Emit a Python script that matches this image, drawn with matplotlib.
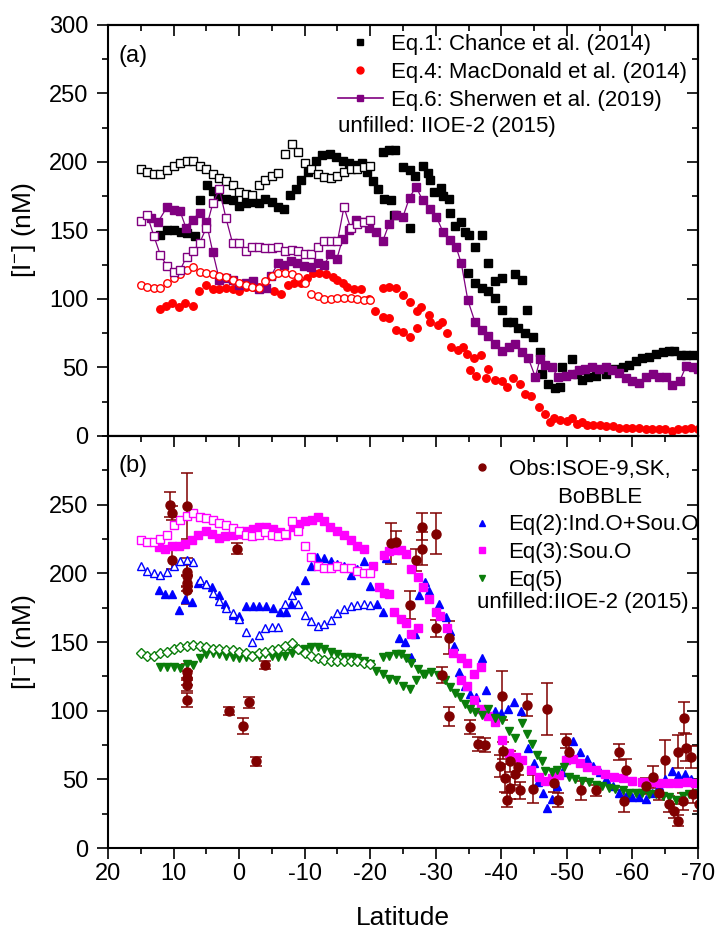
import matplotlib
matplotlib.use("Agg")
import matplotlib.pyplot as plt
from matplotlib.lines import Line2D
from matplotlib.ticker import MultipleLocator

plt.rcParams['font.family'] = ['Liberation Sans', 'DejaVu Sans']
plt.rcParams['mathtext.fontset'] = 'custom'
plt.rcParams['mathtext.rm'] = 'Liberation Sans'
plt.rcParams['mathtext.it'] = 'Liberation Sans:italic'
plt.rcParams['axes.unicode_minus'] = False

# ---------------- panel (a): parameterised iodide ----------------
iioe_lat = [15, 14, 13, 12, 11, 10, 9, 8, 7, 6, 5, 4, 3, 2, 1, 0, -1, -2,
            -3, -4, -5, -6, -7, -8, -9, -10, -11, -12, -13, -14, -15, -16,
            -17, -18, -19, -20]

chance_iioe = [195, 193, 191, 191, 194, 197, 199, 201, 201, 197, 195, 191,
               188, 186, 183, 178, 177, 176, 183, 187, 190, 192, 206, 213,
               207, 199, 195, 191, 189, 188, 190, 193, 195, 195, 196, 197]
macdonald_iioe = [110, 109, 108, 108, 112, 115, 118, 121, 123, 120, 119, 118,
                  117, 116, 114, 112, 110, 109, 108, 113, 117, 119, 119, 118,
                  116, 112, 104, 102, 100, 100, 101, 101, 101, 100, 99, 99]
sherwen_iioe = [157, 161, 146, 132, 124, 120, 121, 131, 135, 141, 152, 170,
                180, 159, 141, 141, 135, 138, 138, 137, 137, 138, 135, 136,
                135, 133, 133, 138, 142, 142, 142, 167, 152, 155, 156, 158]

chance_pts = [(12.0, 147), (11.0, 150), (10.0, 150), (8.9, 149), (7.9, 148), (6.8, 146),
              (6.0, 172), (4.9, 183), (4.0, 179), (3.2, 175), (2.0, 173), (1.0, 172),
              (0.0, 168), (-1.0, 170), (-2.0, 171), (-3.0, 170), (-4.0, 173), (-5.0, 171),
              (-6.0, 167), (-6.9, 166), (-7.8, 176), (-8.7, 180), (-9.5, 187), (-10.5, 193),
              (-11.7, 201), (-12.7, 205), (-13.8, 206), (-14.8, 204), (-15.8, 201),
              (-16.8, 199), (-17.9, 198), (-18.8, 199), (-19.5, 193), (-20.4, 186),
              (-21.2, 180), (-22.1, 173), (-23.1, 172), (-21.9, 207), (-22.8, 209),
              (-23.8, 209), (-25.0, 196), (-26.0, 194), (-26.8, 190), (-28.0, 197),
              (-28.8, 192), (-29.2, 187), (-23.7, 161), (-26.0, 152), (-29.8, 178),
              (-30.8, 181), (-31.1, 175), (-32.0, 173), (-32.1, 163), (-32.9, 153),
              (-33.9, 156), (-34.4, 149), (-35.0, 147), (-36.0, 138), (-37.0, 147),
              (-38.0, 126), (-34.9, 119), (-36.0, 112), (-37.0, 108), (-38.0, 106),
              (-39.0, 101), (-39.0, 113), (-40.1, 115), (-42.1, 118), (-43.1, 114),
              (-40.1, 92), (-40.8, 83), (-41.8, 83), (-42.6, 79), (-43.6, 75), (-44.9, 72),
              (-43.9, 92), (-45.9, 61), (-46.2, 45), (-47.2, 38), (-48.2, 35), (-49.0, 36),
              (-49.3, 50), (-50.8, 56), (-51.5, 45), (-52.3, 41), (-53.3, 43), (-54.4, 44),
              (-55.9, 45), (-57.4, 49), (-58.5, 50), (-59.5, 52), (-60.5, 55), (-61.5, 57),
              (-62.6, 58), (-63.6, 60), (-64.6, 61), (-65.6, 62), (-66.4, 62), (-67.4, 59),
              (-68.2, 59), (-69.2, 59)]

macdonald_pts = [(12.1, 93), (11.2, 95), (10.2, 97), (9.2, 94), (8.2, 97), (7.1, 95),
                 (6.1, 106), (5.0, 110), (4.0, 107), (3.0, 107), (2.0, 108), (1.0, 107),
                 (0.0, 106), (-1.1, 109), (-2.1, 109), (-3.1, 109), (-4.1, 108), (-5.4, 106),
                 (-6.4, 104), (-7.4, 110), (-8.4, 112), (-9.4, 112), (-10.3, 115),
                 (-11.2, 119), (-12.2, 119), (-13.2, 118), (-14.3, 116), (-15.0, 114),
                 (-15.8, 112), (-16.5, 109), (-17.6, 107), (-18.6, 107), (-19.8, 100),
                 (-20.8, 91), (-21.9, 87), (-22.9, 86), (-21.9, 108), (-22.9, 109),
                 (-24.0, 108), (-24.0, 77), (-25.0, 103), (-25.0, 76), (-26.1, 72),
                 (-26.1, 98), (-27.1, 91), (-27.1, 79), (-27.8, 94), (-28.9, 88), (-29.2, 83),
                 (-30.3, 81), (-31.0, 83), (-31.7, 75), (-32.4, 65), (-33.4, 63), (-34.1, 65),
                 (-34.8, 60), (-35.9, 57), (-36.9, 59), (-35.2, 48), (-36.2, 44), (-37.6, 42),
                 (-38.0, 49), (-39.0, 41), (-40.1, 40), (-40.8, 36), (-41.8, 42), (-42.9, 38),
                 (-43.6, 31), (-44.6, 29), (-45.7, 21), (-46.7, 16), (-47.4, 10), (-48.1, 13),
                 (-49.0, 12), (-50.0, 11), (-50.8, 13), (-51.5, 9), (-52.3, 10), (-53.0, 8),
                 (-54.0, 8), (-55.0, 8), (-56.0, 7), (-57.0, 7), (-58.0, 6), (-59.0, 6),
                 (-60.0, 6), (-61.0, 6), (-62.0, 5), (-63.0, 5), (-64.0, 5), (-65.0, 5),
                 (-66.0, 4), (-67.0, 5), (-68.0, 5), (-69.0, 6), (-70.0, 5)]

sherwen_pts = [(13.4, 159), (12.4, 156), (11.0, 167), (10.0, 165), (9.0, 164), (8.1, 152),
               (7.1, 158), (6.0, 163), (5.0, 156), (4.0, 134), (3.0, 114), (2.0, 115),
               (1.0, 114), (0.0, 110), (-1.1, 112), (-2.1, 113), (-3.1, 107), (-4.1, 108),
               (-4.9, 117), (-5.9, 126), (-6.9, 125), (-7.9, 128), (-8.9, 126), (-9.9, 124),
               (-11.0, 123), (-12.0, 126), (-13.0, 125), (-13.9, 133), (-14.9, 129),
               (-15.8, 144), (-16.8, 150), (-17.8, 158), (-18.8, 156), (-19.8, 152),
               (-20.9, 149), (-21.9, 142), (-22.9, 155), (-23.9, 161), (-25.0, 160),
               (-26.0, 174), (-27.0, 182), (-28.0, 172), (-29.1, 166), (-30.1, 160),
               (-31.1, 149), (-32.1, 143), (-33.1, 138), (-33.9, 126), (-34.9, 99),
               (-36.0, 83), (-37.0, 77), (-38.0, 73), (-39.0, 67), (-40.1, 62), (-41.1, 65),
               (-42.1, 67), (-43.1, 61), (-44.1, 57), (-45.2, 43), (-45.9, 56), (-46.7, 52),
               (-47.7, 50), (-48.7, 43), (-49.8, 44), (-50.8, 45), (-51.8, 48), (-52.8, 49),
               (-53.9, 50), (-54.9, 49), (-55.9, 50), (-56.9, 48), (-58.0, 46), (-59.0, 42),
               (-60.0, 40), (-61.0, 39), (-62.0, 43), (-63.1, 45), (-64.1, 43), (-65.1, 43),
               (-66.1, 37), (-67.2, 40), (-68.2, 51), (-69.2, 50), (-70.0, 49)]

# ---------------- panel (b): observations and new fits ----------------
blue_iioe = [205, 202, 200, 199, 201, 205, 209, 210, 208, 195, 192, 186, 180, 175,
             171, 167, 157, 150, 155, 160, 161, 161, 178, 184, 178, 170, 165, 162,
             163, 166, 171, 174, 176, 177, 178, 177]
magenta_iioe = [224, 223, 223, 225, 228, 235, 239, 242, 244, 241, 240, 239, 237, 235,
                233, 231, 228, 227, 228, 230, 228, 227, 229, 238, 231, 220, 212, 205,
                204, 204, 205, 204, 204, 202, 200, 200]
green_iioe = [142, 140, 140, 142, 143, 145, 146, 147, 148, 147, 146, 145, 145, 144,
              144, 143, 142, 140, 142, 143, 144, 145, 147, 149, 145, 142, 140, 138,
              137, 136, 136, 136, 136, 136, 135, 134]

obs_pts = [(10.5, 250, 9), (10.2, 244, 5), (10.3, 210, 7), (8.0, 249, 24), (8.0, 201, 10),
           (8.0, 198, 8), (8.0, 193, 6), (8.0, 188, 10), (8.0, 128, 6), (8.0, 124, 5),
           (8.0, 119, 5), (8.0, 108, 5), (0.3, 218, 4), (1.5, 100, 3), (-0.6, 89, 6),
           (-1.5, 106, 4), (-2.6, 63, 3), (-4.0, 133, 3), (-23.1, 222, 15), (-23.9, 223, 8),
           (-26.0, 177, 10), (-27.0, 210, 8), (-27.9, 218, 12), (-27.9, 234, 10),
           (-30.1, 229, 15), (-30.0, 160, 6), (-31.0, 126, 6), (-32.0, 153, 12),
           (-32.0, 96, 7), (-35.2, 88, 5), (-36.5, 76, 5), (-37.5, 75, 5), (-40.1, 111, 18),
           (-39.8, 60, 8), (-40.3, 71, 6), (-40.6, 51, 10), (-40.8, 35, 5), (-41.3, 44, 8),
           (-41.3, 63, 8), (-42.1, 54, 8), (-42.6, 59, 6), (-42.9, 42, 6), (-43.9, 104, 8),
           (-44.9, 43, 10), (-47.0, 101, 19), (-48.0, 47, 6), (-48.7, 35, 5), (-49.8, 78, 5),
           (-50.3, 70, 5), (-52.1, 42, 7), (-54.4, 42, 4), (-58.0, 70, 6), (-59.0, 57, 8),
           (-58.7, 34, 8), (-62.0, 45, 6), (-63.1, 52, 8), (-64.0, 40, 5), (-64.9, 64, 15),
           (-65.6, 32, 6), (-66.4, 27, 5), (-66.9, 20, 4), (-66.9, 70, 12), (-67.7, 34, 6),
           (-67.9, 95, 11), (-68.2, 73, 10), (-69.0, 66, 8), (-69.2, 39, 6), (-70.2, 32, 5)]

eq2_pts = [(12.2, 188), (11.3, 185), (10.3, 185), (9.2, 173), (8.2, 181), (7.2, 179),
           (6.2, 193), (5.1, 192), (4.1, 190), (3.1, 184), (2.1, 178), (1.0, 170), (0.0, 169),
           (-1.0, 176), (-2.1, 176), (-3.1, 176), (-4.1, 176), (-5.1, 175), (-6.2, 172),
           (-7.2, 172), (-7.9, 178), (-8.9, 188), (-10.0, 195), (-10.9, 205), (-11.9, 212),
           (-13.0, 211), (-14.0, 209), (-15.0, 207), (-16.0, 205), (-17.0, 199), (-18.0, 203),
           (-19.0, 209), (-20.0, 191), (-21.0, 178), (-22.0, 172), (-22.4, 211), (-23.3, 218),
           (-24.0, 221), (-24.4, 153), (-25.3, 150), (-26.2, 139), (-26.9, 156), (-27.5, 184),
           (-28.3, 194), (-29.0, 187), (-30.5, 178), (-31.5, 168), (-32.2, 158), (-32.8, 147),
           (-33.6, 128), (-34.4, 118), (-35.3, 112), (-36.1, 110), (-37.0, 138), (-37.7, 115),
           (-39.0, 100), (-40.0, 98), (-41.0, 101), (-42.0, 106), (-43.0, 100), (-44.0, 73),
           (-45.0, 62), (-45.6, 48), (-46.3, 40), (-47.0, 29), (-47.7, 36), (-48.5, 45),
           (-49.3, 55), (-50.0, 68), (-51.0, 78), (-52.0, 70), (-53.0, 65), (-54.0, 60),
           (-55.0, 55), (-56.0, 50), (-57.0, 45), (-58.0, 40), (-59.0, 38), (-60.0, 37),
           (-61.0, 37), (-62.0, 36), (-63.0, 40), (-64.0, 45), (-65.0, 50), (-66.0, 56),
           (-67.0, 53), (-68.0, 54), (-69.0, 50), (-70.0, 48)]

eq3_pts = [(12.2, 219), (11.3, 218), (10.3, 220), (9.2, 220), (8.2, 221), (7.2, 224),
           (6.2, 228), (5.1, 231), (4.1, 229), (3.1, 226), (2.1, 227), (1.0, 228), (0.0, 229),
           (-1.0, 231), (-2.1, 232), (-3.1, 234), (-4.1, 234), (-5.1, 232), (-6.2, 230),
           (-7.2, 228), (-8.2, 234), (-9.1, 236), (-10.1, 238), (-11.1, 239), (-12.1, 241),
           (-12.9, 238), (-13.9, 234), (-15.0, 231), (-16.0, 228), (-17.0, 224), (-18.0, 220),
           (-19.1, 218), (-20.4, 205), (-21.4, 190), (-22.1, 186), (-22.9, 185), (-23.7, 172),
           (-24.7, 167), (-25.5, 164), (-26.2, 156), (-27.3, 160), (-22.1, 213), (-22.9, 216),
           (-23.9, 217), (-24.7, 217), (-25.5, 214), (-26.2, 203), (-27.3, 197), (-28.0, 190),
           (-29.0, 181), (-30.0, 172), (-30.6, 169), (-31.7, 160), (-32.7, 142), (-33.8, 138),
           (-34.8, 135), (-35.9, 127), (-36.9, 132), (-33.8, 122), (-34.8, 118), (-35.9, 108),
           (-36.9, 101), (-38.0, 96), (-39.0, 92), (-40.1, 79), (-41.1, 69), (-42.2, 66),
           (-43.2, 64), (-44.6, 57), (-45.7, 52), (-46.7, 49), (-47.8, 51), (-48.8, 53),
           (-49.9, 64), (-50.9, 65), (-52.0, 62), (-53.0, 59), (-54.4, 57), (-55.8, 54),
           (-57.2, 52), (-58.6, 51), (-60.0, 49), (-61.4, 48), (-62.8, 48), (-64.2, 47),
           (-65.6, 47), (-67.0, 47), (-68.4, 48), (-69.5, 47)]

eq5_pts = [(12.0, 132), (11.0, 132), (10.0, 132), (9.0, 131), (8.0, 134), (7.0, 133),
           (6.0, 138), (5.0, 141), (4.0, 142), (3.0, 141), (2.0, 140), (1.0, 139), (0.0, 138),
           (-1.0, 139), (-2.0, 140), (-3.0, 140), (-4.0, 141), (-5.0, 140), (-6.0, 139),
           (-7.0, 140), (-8.0, 142), (-9.0, 144), (-10.0, 145), (-11.0, 146), (-12.0, 146),
           (-13.0, 145), (-14.0, 143), (-15.0, 141), (-16.0, 139), (-17.0, 139), (-18.0, 138),
           (-19.0, 136), (-20.0, 134), (-20.9, 129), (-21.9, 127), (-22.9, 123), (-23.9, 122),
           (-25.0, 118), (-26.0, 116), (-27.0, 122), (-28.0, 127), (-21.9, 139), (-22.9, 140),
           (-23.9, 141), (-24.7, 141), (-25.5, 138), (-26.2, 135), (-27.3, 130), (-28.3, 127),
           (-29.3, 128), (-30.3, 126), (-31.4, 122), (-32.1, 117), (-32.9, 113), (-33.7, 110),
           (-34.4, 105), (-35.2, 101), (-36.0, 99), (-37.0, 97), (-38.0, 101), (-39.0, 95),
           (-40.1, 93), (-41.1, 85), (-42.1, 80), (-43.1, 91), (-43.9, 83), (-44.7, 76),
           (-45.4, 68), (-46.2, 63), (-46.7, 56), (-47.7, 55), (-48.5, 57), (-49.5, 59),
           (-50.3, 52), (-51.3, 50), (-52.3, 49), (-53.4, 48), (-54.4, 46), (-55.4, 45),
           (-56.4, 44), (-57.4, 43), (-58.5, 42), (-59.5, 40), (-60.5, 40), (-61.5, 40),
           (-62.6, 39), (-63.6, 39), (-64.6, 38), (-65.6, 37), (-66.6, 35), (-67.7, 38),
           (-68.7, 39), (-70.0, 40)]

BLACK, RED, PURPLE = 'black', '#ff0000', '#800080'
MAROON, BLUE, MAGENTA, GREEN = '#800000', '#0000ff', '#ff00ff', '#0a7d0a'


def unzip(pts):
    return [p[0] for p in pts], [p[1] for p in pts]


def style_axes(ax, yticks, show_xlabels):
    ax.set_xlim(20, -70)
    ax.set_ylim(0, 300)
    ax.set_xticks([20, 10, 0, -10, -20, -30, -40, -50, -60, -70])
    ax.set_yticks(yticks)
    ax.xaxis.set_minor_locator(MultipleLocator(5))
    ax.yaxis.set_minor_locator(MultipleLocator(25))
    for sp in ax.spines.values():
        sp.set_linewidth(1.5)
    ax.tick_params(which='major', direction='out', length=8, width=1.2,
                   labelsize=17)
    ax.tick_params(axis='y', which='major', pad=6)
    ax.tick_params(axis='x', which='major', pad=3)
    ax.tick_params(which='minor', direction='out', length=4, width=1.2)
    if not show_xlabels:
        ax.tick_params(labelbottom=False)
    # inward ticks on the top and right edges
    top = ax.secondary_xaxis('top')
    top.set_xticks(ax.get_xticks())
    top.xaxis.set_minor_locator(MultipleLocator(5))
    top.tick_params(which='major', direction='in', length=8, width=1.2, labeltop=False)
    top.tick_params(which='minor', direction='in', length=4, width=1.2)
    top.spines['top'].set_linewidth(1.5)
    right = ax.secondary_yaxis('right')
    right.set_yticks(yticks)
    right.yaxis.set_minor_locator(MultipleLocator(25))
    right.tick_params(which='major', direction='in', length=8, width=1.2, labelright=False)
    right.tick_params(which='minor', direction='in', length=4, width=1.2)
    right.spines['right'].set_linewidth(1.5)
    ax.set_ylabel('[I$^{-}$] (nM)', fontsize=19)
    ax.yaxis.set_label_coords(-0.118, 0.5)


fig = plt.figure(figsize=(7.16, 9.36), dpi=100)
ax_a = fig.add_axes([0.1508, 0.5342, 0.8240, 0.4391])
ax_b = fig.add_axes([0.1508, 0.0940, 0.8240, 0.4402])

mk = dict(linestyle='none', markersize=5.4)

# (a) Chance / MacDonald / Sherwen
lat, val = unzip(chance_pts)
ax_a.plot(lat, val, marker='s', color=BLACK, **mk)
lat, val = unzip(macdonald_pts)
ax_a.plot(lat, val, marker='o', color=RED, **mk)
lat, val = unzip(sherwen_pts)
ax_a.plot(lat, val, marker='s', color=PURPLE, markersize=5.4, lw=0.9)
ax_a.plot(iioe_lat, chance_iioe, marker='s', mfc='white', mec=BLACK, mew=1, **mk)
ax_a.plot(iioe_lat, macdonald_iioe, marker='o', mfc='white', mec=RED, mew=1, **mk)
ax_a.plot(iioe_lat, sherwen_iioe, marker='s', mfc='white', mec=PURPLE, mew=1,
          color=PURPLE, markersize=5.4, lw=0.9)

style_axes(ax_a, [0, 50, 100, 150, 200, 250, 300], False)
ax_a.text(0.017, 0.925, '(a)', transform=ax_a.transAxes, fontsize=17, va='center')

leg_a = [Line2D([], [], ls='none', marker='s', color=BLACK, markersize=5),
         Line2D([], [], ls='none', marker='o', color=RED, markersize=5),
         Line2D([], [], marker='s', color=PURPLE, markersize=5, lw=1.2)]
ax_a.legend(leg_a, ['Eq.1: Chance et al. (2014)', 'Eq.4: MacDonald et al. (2014)',
                    'Eq.6: Sherwen et al. (2019)'],
            loc='upper left', bbox_to_anchor=(0.39, 0.978), frameon=False,
            fontsize=16, handlelength=2.0, handletextpad=0.4, labelspacing=0.32,
            borderpad=0, borderaxespad=0)
ax_a.text(0.39, 0.754, 'unfilled: IIOE-2 (2015)', transform=ax_a.transAxes,
          fontsize=16, va='center')

# (b) observations and new parameterisations
lat, val = unzip(obs_pts)
err = [p[2] for p in obs_pts]
ax_b.errorbar(lat, val, yerr=err, fmt='o', color=MAROON, markersize=6.5,
              capsize=4, elinewidth=1.1, capthick=1.1)
lat, val = unzip(eq2_pts)
ax_b.plot(lat, val, marker='^', color=BLUE, linestyle='none', markersize=6)
lat, val = unzip(eq3_pts)
ax_b.plot(lat, val, marker='s', color=MAGENTA, linestyle='none', markersize=5.3)
lat, val = unzip(eq5_pts)
ax_b.plot(lat, val, marker='v', color=GREEN, linestyle='none', markersize=6)
ax_b.plot(iioe_lat, blue_iioe, marker='^', mfc='white', mec=BLUE, mew=1,
          linestyle='none', markersize=6)
ax_b.plot(iioe_lat, magenta_iioe, marker='s', mfc='white', mec=MAGENTA, mew=1,
          linestyle='none', markersize=5.3)
ax_b.plot(iioe_lat, green_iioe, marker='D', mfc='white', mec=GREEN, mew=1,
          linestyle='none', markersize=4.6)

style_axes(ax_b, [0, 50, 100, 150, 200, 250], True)
ax_b.text(0.017, 0.927, '(b)', transform=ax_b.transAxes, fontsize=17, va='center')
ax_b.set_xlabel('Latitude', fontsize=19)
ax_b.xaxis.set_label_coords(0.5, -0.14)

blank = Line2D([], [], ls='none')
leg_b = [Line2D([], [], ls='none', marker='o', color=MAROON, markersize=5),
         blank,
         Line2D([], [], ls='none', marker='^', color=BLUE, markersize=5),
         Line2D([], [], ls='none', marker='s', color=MAGENTA, markersize=4.5),
         Line2D([], [], ls='none', marker='v', color=GREEN, markersize=5)]
ax_b.legend(leg_b, ['Obs:ISOE-9,SK,', '        BoBBLE', 'Eq(2):Ind.O+Sou.O',
                    'Eq(3):Sou.O', 'Eq(5)'],
            loc='upper left', bbox_to_anchor=(0.615, 0.944), frameon=False,
            fontsize=16, handlelength=1.0, handletextpad=0.7, labelspacing=0.3,
            borderpad=0, borderaxespad=0)
ax_b.text(0.625, 0.595, 'unfilled:IIOE-2 (2015)', transform=ax_b.transAxes,
          fontsize=16, va='center')

fig.savefig('out.png', dpi=100)
